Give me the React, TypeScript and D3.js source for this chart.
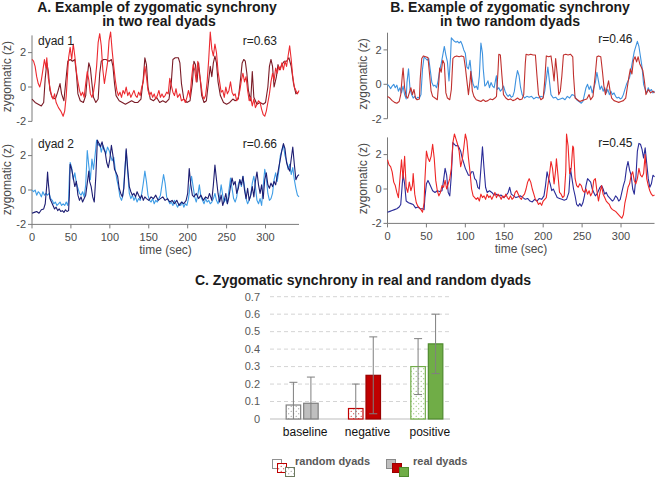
import React from "react";
import * as d3 from "d3";

type P = [number, number];

// ---------- time series data (t in sec, z-score) ----------
const A1Dark: P[] = [[0,-0.7],[4,-0.9],[8,-1.0],[12,-1.1],[15,-0.9],[17,0.5],[19,1.4],[21,0.9],[23,-0.2],[26,-0.6],[30,-0.7],[33,-0.3],[36,0.2],[38,-0.4],[41,-0.8],[44,0.6],[46,1.5],[49,1.6],[52,1.5],[55,1.6],[57,0.8],[59,-0.4],[62,-0.8],[66,-0.9],[69,-0.5],[71,0.6],[73,1.4],[75,1.1],[77,0.2],[79,-0.6],[82,-0.9],[85,-0.7],[87,0.8],[89,1.5],[92,1.6],[95,1.6],[99,1.5],[102,1.6],[104,1.2],[106,0.2],[108,-0.5],[112,-0.8],[116,-0.9],[120,-1.0],[124,-0.9],[128,-0.8],[132,-0.9],[136,-0.9],[140,-0.7],[143,0.5],[145,1.7],[147,1.3],[149,0.0],[152,-0.7],[156,-0.8],[160,-0.6],[164,-0.9],[168,-0.8],[172,-0.9],[176,-0.7],[179,0.3],[181,1.6],[184,1.7],[188,1.7],[190,1.4],[192,0.2],[195,-0.7],[199,-0.9],[203,-0.8],[206,0.2],[208,1.5],[210,1.3],[212,0.3],[214,1.4],[216,0.5],[218,-0.5],[221,-0.9],[224,-0.8],[227,0.4],[229,1.2],[231,0.6],[233,1.4],[235,1.8],[237,1.4],[239,0.3],[242,-0.5],[246,-0.9],[250,-1.0],[254,-0.9],[258,-0.7],[261,-0.8],[265,-0.7],[268,0.5],[270,1.4],[272,1.6],[274,1.5],[276,0.8],[278,-0.2],[281,-0.8],[283,0.9],[285,-0.6],[289,-1.0],[293,-0.9],[297,-1.0],[300,-0.9],[303,0.0],[305,1.2],[307,1.6],[309,1.2],[311,0.0],[314,0.6],[316,1.3],[318,1.0],[321,1.3],[324,1.5],[327,1.5],[330,1.7],[333,1.2],[336,0.2],[339,-0.4],[342,-0.3]];

const A1Bright: P[] = [[0,1.6],[2,1.5],[4,1.2],[6,0.6],[8,0.2],[10,0.0],[12,0.4],[14,1.0],[16,1.6],[18,1.1],[19,1.7],[21,0.5],[23,0.0],[25,-0.5],[27,-0.7],[29,-0.4],[31,-0.9],[34,-1.2],[37,-1.4],[40,-1.7],[42,-1.4],[44,-0.5],[46,1.0],[47,1.7],[49,2.3],[51,1.6],[53,2.5],[55,1.8],[57,0.9],[59,0.3],[61,-0.2],[63,-0.5],[65,-0.3],[67,-0.6],[69,0.2],[71,0.9],[73,0.4],[75,-0.4],[77,-0.6],[79,-0.3],[81,0.3],[83,1.2],[85,2.6],[87,3.1],[89,2.4],[91,1.0],[93,0.2],[95,0.8],[97,1.4],[99,2.7],[101,3.2],[103,2.1],[105,1.2],[107,0.4],[109,-0.2],[111,-0.5],[113,-0.3],[115,-0.6],[117,-0.2],[119,-0.4],[121,0.0],[123,-0.5],[125,-0.3],[127,-0.6],[129,-0.4],[131,-0.2],[133,-0.5],[135,-0.6],[137,-0.3],[139,-0.5],[141,0.0],[143,0.3],[145,1.2],[147,0.6],[149,-0.2],[151,-0.5],[153,-0.3],[155,-0.6],[157,-0.4],[159,-0.7],[161,-0.5],[163,-0.2],[165,-0.6],[167,-0.4],[169,-0.6],[171,-0.5],[173,-0.3],[175,-0.4],[177,0.5],[179,0.1],[181,-0.3],[183,-0.5],[185,-0.1],[187,-0.6],[190,-0.4],[192,-0.8],[195,-0.7],[197,-0.9],[199,-0.6],[201,-0.2],[203,-0.6],[205,0.5],[207,1.3],[209,1.0],[211,0.3],[213,1.5],[215,0.8],[217,0.2],[219,-0.5],[221,-0.7],[223,-0.5],[225,0.3],[227,1.6],[229,3.2],[231,2.2],[233,1.8],[235,2.5],[237,2.0],[239,0.9],[241,0.3],[243,-0.3],[245,-0.2],[247,-0.6],[249,0.0],[251,-0.4],[253,-0.2],[255,0.3],[257,-0.3],[259,-0.5],[261,-0.4],[263,-0.8],[265,-0.6],[267,-0.2],[269,0.4],[271,0.8],[273,0.3],[275,0.6],[277,-0.2],[279,-0.8],[281,-0.6],[283,-1.1],[285,-0.7],[287,-1.2],[289,-1.0],[291,-0.8],[293,-0.9],[295,-1.3],[297,-1.6],[299,-1.7],[301,-1.4],[303,-0.9],[305,-0.4],[307,0.3],[309,0.8],[311,0.4],[313,1.1],[315,0.8],[317,1.2],[319,1.0],[321,1.4],[323,1.0],[325,1.5],[327,1.2],[329,1.8],[331,2.4],[333,1.6],[335,0.6],[337,0.0],[339,-0.2],[341,-0.4],[343,-0.2]];

const A2Light: P[] = [[0,0.0],[2,-0.1],[4,0.0],[6,-0.3],[8,-0.1],[10,-0.2],[12,-0.4],[14,-0.1],[16,-0.3],[18,-0.2],[20,-0.3],[22,-0.2],[24,-0.5],[26,-0.6],[28,-0.8],[30,-0.7],[32,-0.9],[34,-0.8],[36,-0.7],[38,-0.9],[40,-0.8],[42,-0.9],[44,-0.7],[46,-0.9],[47,-0.6],[48,0.8],[49,1.6],[51,1.3],[53,0.6],[55,1.0],[57,0.4],[59,0.1],[61,-0.2],[63,-0.3],[65,-0.1],[67,-0.4],[69,0.3],[71,2.3],[73,1.4],[75,0.6],[77,1.8],[79,1.2],[81,2.0],[83,2.9],[85,2.6],[87,2.7],[89,2.2],[91,2.6],[93,2.4],[95,2.1],[97,2.5],[99,2.3],[101,2.0],[103,1.7],[105,1.9],[107,1.2],[109,0.6],[111,0.2],[113,-0.4],[115,-0.6],[117,-0.3],[119,1.0],[121,2.3],[123,1.0],[125,-0.2],[127,-0.5],[129,-0.3],[131,-0.6],[133,-0.4],[135,-0.7],[137,-0.5],[139,-0.6],[141,-0.2],[143,0.4],[145,1.1],[147,0.5],[149,-0.3],[151,-0.6],[153,-0.7],[155,-0.5],[157,-0.8],[159,-0.6],[161,-0.7],[163,-0.5],[165,-0.3],[167,0.3],[169,0.9],[171,0.4],[173,-0.4],[175,-0.6],[177,-0.8],[179,-0.7],[181,-0.9],[183,-0.6],[185,-0.8],[187,-1.0],[189,-0.8],[191,-0.9],[193,-0.7],[195,-1.0],[197,-0.8],[199,-0.9],[201,-0.5],[203,0.2],[205,0.8],[207,0.2],[209,-0.4],[211,-0.7],[213,-0.3],[215,0.3],[217,-0.4],[219,-0.6],[221,-0.8],[223,-0.5],[225,-0.7],[227,-0.6],[229,-0.8],[231,-0.7],[233,-0.5],[235,-0.2],[237,-0.6],[239,-0.8],[241,-0.4],[243,0.3],[245,-0.3],[247,-0.7],[249,-0.5],[251,-0.8],[253,0.0],[255,0.7],[257,0.1],[259,-0.5],[261,-0.7],[263,-0.4],[265,0.3],[267,0.6],[269,0.2],[271,0.8],[273,0.2],[275,-0.5],[277,-0.8],[279,-0.6],[281,-0.3],[283,0.4],[285,0.8],[287,0.2],[289,-0.6],[291,-0.8],[293,-0.5],[295,-0.9],[297,0.2],[299,1.2],[301,0.7],[303,-0.2],[305,-0.6],[307,-0.5],[309,-0.2],[311,0.6],[313,1.0],[315,0.5],[317,1.1],[319,2.0],[321,2.3],[323,2.6],[325,2.0],[327,1.7],[329,1.2],[331,1.5],[333,0.9],[335,1.3],[337,0.6],[339,0.1],[341,-0.3],[343,-0.4]];

const A2Navy: P[] = [[0,-1.35],[3,-1.3],[6,-1.25],[9,-1.35],[12,-1.15],[15,-1.1],[17,-0.8],[19,0.3],[20,1.05],[21,0.4],[23,-0.5],[25,-0.7],[27,-0.9],[29,-1.1],[31,-1.0],[33,-1.2],[35,-1.1],[37,-1.25],[39,-1.2],[41,-1.3],[43,-1.15],[45,-1.25],[47,-1.2],[48,-0.3],[49,1.5],[51,1.2],[53,0.7],[55,0.2],[57,0.5],[59,-0.3],[61,-0.6],[63,-0.4],[65,-0.7],[67,-0.5],[69,-0.3],[71,0.4],[73,1.1],[74,0.5],[76,0.2],[78,-0.4],[80,-0.7],[82,0.8],[84,2.9],[86,2.7],[88,2.5],[90,2.8],[92,2.4],[94,2.2],[96,1.6],[98,1.3],[100,1.8],[102,2.6],[104,2.0],[106,1.2],[108,1.0],[110,0.8],[112,0.1],[114,-0.2],[116,-0.4],[118,0.1],[120,1.6],[121,2.4],[123,1.2],[125,0.2],[127,-0.1],[129,-0.3],[131,-0.2],[133,-0.4],[135,-0.1],[137,-0.3],[139,-0.5],[141,-0.3],[143,-0.6],[145,-0.4],[147,-0.5],[150,-0.6],[153,-0.4],[156,-0.5],[159,-0.3],[162,-0.6],[165,-0.5],[168,-0.4],[171,-0.6],[174,-0.5],[177,-0.7],[180,-0.6],[183,-0.8],[186,-0.6],[189,-0.9],[192,-0.7],[195,-0.8],[198,-0.6],[200,-0.2],[202,1.25],[204,0.3],[206,-0.3],[208,-0.4],[211,-0.2],[214,-0.5],[217,-0.3],[220,-0.6],[223,-0.4],[226,-0.5],[228,-0.2],[231,-0.6],[233,0.3],[235,1.45],[237,0.6],[239,-0.2],[241,-0.7],[243,-0.3],[245,-0.9],[247,-0.6],[249,-0.2],[251,-0.8],[253,-0.4],[255,0.2],[257,0.7],[259,0.3],[261,0.5],[263,-0.2],[265,0.1],[267,0.6],[269,0.3],[271,0.8],[273,0.0],[275,-0.5],[277,0.1],[279,-0.6],[281,-0.3],[283,0.2],[285,-0.4],[287,0.5],[289,1.05],[291,0.3],[293,-0.2],[295,0.3],[297,-0.5],[299,0.6],[301,1.0],[303,0.3],[305,0.1],[307,0.4],[309,0.2],[311,0.5],[313,0.3],[315,0.8],[317,1.3],[319,1.8],[321,2.3],[323,2.7],[325,2.4],[327,1.6],[329,1.3],[331,1.1],[333,1.8],[335,2.5],[337,1.5],[339,0.6],[341,0.8],[343,0.9]];

const B1Blue: P[] = [[0,0.0],[2,-0.1],[4,-0.25],[6,-0.1],[8,0.0],[10,-0.2],[12,-0.05],[14,-0.4],[16,-0.2],[18,-0.5],[20,-0.1],[22,-0.6],[24,-0.85],[25,0.1],[27,0.9],[29,-0.3],[31,-0.6],[33,-0.8],[35,-0.7],[37,-0.85],[39,-0.75],[41,-0.8],[43,-0.6],[45,0.9],[47,1.6],[49,1.5],[51,1.4],[53,1.5],[55,0.8],[57,0.1],[59,-0.1],[61,-0.05],[63,-0.2],[65,0.2],[67,0.8],[69,1.2],[71,1.7],[73,2.2],[75,1.7],[77,1.3],[79,0.2],[81,1.6],[82,2.7],[84,2.6],[86,2.5],[88,2.45],[90,2.5],[92,2.4],[94,2.5],[96,2.3],[98,2.0],[100,1.8],[102,1.0],[104,0.9],[106,1.4],[108,0.5],[110,0.0],[112,-0.2],[114,-0.1],[116,-0.3],[118,0.5],[120,2.4],[122,1.8],[123,0.9],[125,-0.1],[127,0.0],[129,0.2],[131,-0.2],[133,0.1],[135,-0.1],[137,-0.2],[139,0.3],[140,0.5],[141,-0.3],[143,-0.2],[145,-0.4],[147,-0.3],[149,-0.1],[151,-0.4],[153,-0.6],[155,-0.7],[157,-0.6],[159,-0.75],[161,-0.7],[163,-0.4],[165,0.3],[167,0.8],[169,0.5],[171,-0.2],[173,-0.6],[176,-0.8],[179,-0.7],[182,-0.75],[185,-0.7],[188,-0.85],[191,-0.75],[194,-0.8],[197,-0.7],[200,-0.75],[202,-0.4],[204,0.3],[206,1.0],[208,0.2],[210,-0.6],[213,-0.8],[216,-0.75],[219,-0.9],[222,-0.85],[225,-0.8],[228,-0.9],[231,-0.7],[234,-0.8],[237,-0.6],[240,-0.65],[243,-0.9],[246,-1.0],[249,-1.1],[251,-1.0],[253,-0.6],[255,-0.2],[257,0.0],[259,-0.3],[261,-0.1],[263,-0.5],[265,-0.2],[267,0.1],[269,0.7],[271,0.2],[273,-0.3],[275,-0.1],[277,-0.4],[279,-0.2],[281,-0.5],[283,-0.3],[285,-0.6],[287,-0.4],[289,-0.6],[291,-0.5],[293,-0.7],[295,-0.8],[297,-0.75],[299,-0.85],[301,-0.8],[303,-0.6],[305,-0.3],[307,0.0],[309,0.2],[311,0.4],[313,0.9],[315,1.4],[317,1.9],[319,2.2],[321,2.5],[323,2.2],[325,1.6],[327,1.0],[329,0.0],[331,-0.3],[333,-0.5],[335,-0.2],[337,-0.4],[339,-0.3],[341,-0.5],[343,-0.4]];

const B1Red: P[] = [[0,-0.7],[3,-0.8],[6,-0.95],[9,-1.05],[12,-1.1],[15,-1.0],[17,-0.6],[19,0.5],[20,0.95],[22,-0.2],[24,-0.7],[26,-0.8],[28,-0.5],[30,-0.2],[32,-0.6],[34,-0.3],[36,-0.8],[38,-0.9],[41,-0.85],[42,0.3],[44,1.5],[46,1.65],[49,1.6],[52,1.55],[54,0.6],[56,-0.4],[58,-0.7],[61,-0.8],[64,-0.9],[66,0.2],[67,0.95],[69,0.7],[71,1.4],[73,1.2],[75,-0.5],[77,-0.8],[80,-0.9],[82,-0.3],[84,1.5],[86,1.6],[89,1.65],[92,1.6],[95,1.65],[98,1.6],[100,1.0],[102,0.2],[104,-0.6],[106,0.2],[107,0.75],[109,-0.4],[111,-0.7],[114,-0.9],[117,-0.95],[120,-1.0],[123,-0.9],[126,-1.0],[129,-0.95],[132,-0.85],[135,-0.9],[138,-0.8],[140,-0.7],[142,0.8],[143,1.75],[145,1.7],[147,0.5],[149,-0.6],[152,-0.8],[155,-0.9],[158,-0.85],[161,-0.95],[164,-0.9],[167,-0.8],[170,-0.9],[173,-0.85],[175,-0.6],[177,1.2],[178,1.75],[181,1.7],[184,1.75],[187,1.7],[190,1.7],[192,0.5],[194,-0.6],[197,-0.9],[200,-0.8],[202,0.2],[204,1.65],[207,1.6],[210,1.65],[212,1.0],[214,0.2],[216,1.5],[218,0.6],[220,-0.6],[222,-0.4],[224,0.5],[226,1.7],[229,1.75],[232,1.7],[235,1.75],[238,1.6],[239,0.5],[241,-0.8],[244,-0.9],[247,-1.0],[250,-0.95],[253,-0.9],[256,-0.85],[259,-0.6],[261,-0.9],[264,-0.7],[267,0.6],[269,1.6],[271,1.65],[274,1.6],[276,0.8],[278,-0.1],[280,-0.6],[282,-0.2],[284,0.2],[286,-0.4],[288,-0.8],[291,-0.95],[294,-1.0],[297,-1.05],[300,-1.0],[303,-0.95],[306,-0.8],[308,-0.2],[310,0.4],[312,0.9],[314,0.6],[316,1.4],[318,1.6],[320,1.3],[322,1.6],[324,1.2],[326,1.0],[328,0.8],[330,0.2],[332,-0.6],[335,-0.3],[338,-0.5],[341,-0.4],[343,-0.5]];

const B2Navy: P[] = [[0,-1.35],[3,-1.3],[6,-1.25],[9,-1.2],[12,-1.15],[15,-1.05],[17,-0.9],[19,0.3],[20,0.85],[22,0.3],[24,-0.7],[27,-0.8],[30,-0.85],[33,-0.9],[36,-1.1],[39,-1.05],[42,-1.15],[45,-1.15],[47,-1.2],[48,-0.5],[50,0.3],[52,0.5],[54,0.3],[56,0.1],[58,-0.1],[61,-0.2],[64,-0.1],[67,-0.15],[70,-0.1],[72,0.5],[74,1.2],[76,0.8],[78,-0.2],[80,-0.4],[82,0.8],[84,2.7],[86,2.6],[88,2.5],[90,2.55],[92,2.4],[94,2.2],[96,1.8],[98,1.5],[100,1.2],[102,1.0],[104,0.8],[106,0.8],[108,1.0],[110,1.0],[112,0.6],[114,0.5],[116,0.1],[118,0.0],[120,1.2],[122,2.45],[124,1.2],[126,0.1],[128,-0.2],[131,-0.1],[134,-0.2],[137,-0.35],[140,-0.3],[143,-0.4],[146,-0.35],[149,-0.5],[152,-0.4],[155,-0.2],[157,0.1],[159,-0.3],[162,-0.4],[165,-0.5],[168,-0.45],[171,-0.4],[174,-0.5],[177,-0.6],[180,-0.55],[183,-0.7],[186,-0.75],[189,-0.6],[192,-0.7],[195,-0.55],[198,-0.6],[201,-0.4],[203,0.2],[205,1.0],[207,0.6],[209,0.3],[211,-0.1],[213,0.0],[215,-0.2],[218,-0.5],[221,-0.55],[224,-0.6],[227,-0.65],[230,-0.6],[233,-0.2],[235,1.2],[237,0.6],[239,0.0],[241,-0.4],[243,-0.9],[245,-1.0],[247,-0.85],[249,-1.0],[251,-0.8],[253,-0.4],[255,0.2],[257,0.6],[259,0.5],[261,0.4],[263,0.0],[265,-0.2],[267,-0.4],[269,-0.3],[271,-0.1],[273,0.1],[275,0.2],[277,0.0],[279,-0.3],[281,-0.2],[283,-0.4],[285,-0.5],[287,-0.6],[289,-0.7],[291,-0.6],[293,-0.4],[295,-0.5],[297,-0.7],[299,-0.6],[301,-0.2],[303,0.2],[305,0.5],[307,1.2],[309,1.6],[311,1.1],[313,0.8],[315,0.0],[317,-0.3],[319,0.6],[321,2.2],[323,2.65],[325,2.6],[327,2.3],[329,1.8],[331,2.4],[333,1.5],[335,0.6],[337,0.1],[339,0.3],[341,0.8],[343,0.7]];

const B2Red: P[] = [[0,1.7],[2,1.4],[4,1.3],[6,1.0],[8,0.4],[10,0.2],[12,-0.2],[14,-0.5],[16,0.6],[18,1.7],[20,0.6],[22,1.9],[24,0.1],[26,-0.2],[28,0.4],[30,-0.1],[32,0.2],[33,0.9],[35,-0.3],[37,-0.8],[39,-1.0],[41,-1.1],[43,-1.2],[45,-1.35],[47,-0.8],[48,0.5],[50,2.2],[52,1.8],[54,1.6],[56,1.9],[58,2.6],[60,1.8],[62,0.5],[64,-0.1],[66,-0.4],[68,-0.2],[70,0.2],[72,0.1],[74,0.5],[76,0.0],[78,0.3],[80,0.6],[82,1.2],[84,2.7],[86,3.2],[88,2.9],[90,2.6],[92,2.2],[94,1.3],[96,1.7],[98,2.4],[100,3.2],[102,2.8],[104,1.8],[106,1.0],[108,0.0],[110,-0.4],[112,-0.5],[114,-0.6],[116,-0.5],[118,-0.7],[120,-0.3],[122,-0.5],[124,-0.4],[126,-0.6],[128,-0.3],[130,-0.5],[132,-0.4],[134,-0.6],[136,-0.4],[138,-0.2],[140,-0.5],[142,-0.3],[144,-0.4],[146,-0.6],[148,-0.4],[150,-0.5],[152,-0.3],[154,-0.5],[156,-0.6],[158,-0.4],[160,-0.6],[162,-0.5],[164,-0.2],[166,-0.1],[168,-0.3],[170,-0.5],[172,-0.6],[174,-0.4],[176,-0.3],[178,0.0],[180,0.4],[182,0.6],[184,0.4],[186,0.0],[188,-0.3],[190,-0.6],[192,-0.7],[194,-0.9],[196,-0.8],[198,-0.95],[200,-0.7],[202,-0.6],[204,-0.5],[206,0.2],[208,0.8],[210,1.6],[212,1.2],[214,0.3],[216,1.1],[217,1.75],[219,0.8],[221,-0.2],[223,-0.3],[225,-0.5],[227,-0.4],[229,1.0],[230,3.2],[232,2.5],[234,0.9],[236,1.2],[238,2.5],[239,2.4],[241,0.6],[243,0.2],[245,0.1],[247,0.3],[249,0.2],[251,-0.1],[253,-0.2],[255,0.0],[257,-0.3],[259,-0.1],[261,-0.4],[263,-0.2],[265,0.5],[267,0.6],[269,-0.1],[271,-0.7],[273,-0.2],[275,0.2],[277,-0.3],[279,-0.5],[281,-0.7],[283,-0.8],[285,-0.9],[287,-1.1],[289,-1.2],[291,-1.25],[293,-1.3],[295,-1.4],[297,-1.5],[299,-1.6],[301,-1.7],[303,-1.5],[305,-0.8],[307,-0.4],[309,0.1],[311,0.3],[313,0.8],[315,1.0],[317,0.5],[319,0.3],[321,0.6],[323,1.2],[325,0.8],[327,0.7],[329,0.9],[331,2.0],[333,0.6],[335,0.2],[337,-0.1],[339,-0.3],[341,-0.4],[343,-0.35]];

const timeTicks = [0, 50, 100, 150, 200, 250, 300];
const zTicks = [-2, 0, 2];

// ---------- bar chart data ----------
const categories = ["baseline", "negative", "positive"];
const randomMeans = [0.08, 0.06, 0.30];
const randomErr = [0.13, 0.14, 0.16];
const realMeans = [0.09, 0.25, 0.43];
const realErr = [0.15, 0.22, 0.17];
const barTicks = [0, 0.1, 0.2, 0.3, 0.4, 0.5, 0.6, 0.7];
const catColors = ["#808080", "#c00000", "#70ad47"];
const realFills = ["#bfbfbf", "#c00000", "#70ad47"];
const realStrokes = ["#7f7f7f", "#9a0000", "#4f8a2e"];

const FONT = "'Liberation Sans', Arial, Helvetica, sans-serif";
const X_MAX = 343;
const UNIT = 17.2;

interface PanelDef {
  x0: number; x1: number; zero: number; xAxis: boolean;
  dyad?: string; r: string;
  series: { data: P[]; color: string }[];
}

const panels: PanelDef[] = [
  { x0: 32, x1: 299, zero: 87, xAxis: false, dyad: "dyad 1", r: "r=0.63",
    series: [{ data: A1Dark, color: "#7a1b26" }, { data: A1Bright, color: "#ec2a30" }] },
  { x0: 32, x1: 299, zero: 190, xAxis: true, dyad: "dyad 2", r: "r=0.66",
    series: [{ data: A2Light, color: "#3f9de6" }, { data: A2Navy, color: "#1d1d72" }] },
  { x0: 387.5, x1: 654.5, zero: 84.3, xAxis: false, r: "r=0.46",
    series: [{ data: B1Blue, color: "#3d92df" }, { data: B1Red, color: "#c0302e" }] },
  { x0: 387.5, x1: 654.5, zero: 189, xAxis: true, r: "r=0.45",
    series: [{ data: B2Navy, color: "#2a2c98" }, { data: B2Red, color: "#ee2626" }] },
];

function TSPanel({ def }: { def: PanelDef }) {
  const x = d3.scaleLinear().domain([0, X_MAX]).range([def.x0, def.x1]);
  const y = d3.scaleLinear().domain([-2, 2]).range([def.zero + 2 * UNIT, def.zero - 2 * UNIT]);
  const line = d3.line<P>().x((d) => x(d[0])).y((d) => y(d[1]));
  const axisColor = "#7a7a7a";
  const tickText = "#4a4a4a";
  return (
    <g>
      <line x1={def.x0} x2={def.x0} y1={y(3)} y2={y(-2)} stroke={axisColor} strokeWidth={1} />
      {zTicks.map((t) => (
        <g key={t}>
          <line x1={def.x0 - 4} x2={def.x0} y1={y(t)} y2={y(t)} stroke={axisColor} />
          <text x={def.x0 - 6} y={y(t)} dy="0.35em" textAnchor="end" fontSize={11} fill={tickText}>{t}</text>
        </g>
      ))}
      <text transform={`translate(${def.x0 - 21},${y(0.6)}) rotate(-90)`} textAnchor="middle" fontSize={12} fill="#4a4a4a">zygomatic (z)</text>
      {def.xAxis && (
        <g>
          <line x1={def.x0} x2={def.x1} y1={y(-2)} y2={y(-2)} stroke={axisColor} />
          {timeTicks.map((t) => (
            <g key={t}>
              <line x1={x(t)} x2={x(t)} y1={y(-2)} y2={y(-2) + 4} stroke={axisColor} />
              <text x={x(t)} y={y(-2) + 17} textAnchor="middle" fontSize={11} fill={tickText}>{t}</text>
            </g>
          ))}
          <text x={(def.x0 + def.x1) / 2} y={y(-2) + 30} textAnchor="middle" fontSize={12} fill="#4a4a4a">time (sec)</text>
        </g>
      )}
      {def.series.map((s, i) => (
        <path key={i} d={line(s.data) || ""} fill="none" stroke={s.color} strokeWidth={1.1} strokeLinejoin="round" />
      ))}
      {def.dyad && <text x={def.x0 + 6} y={y(2.42)} fontSize={12} fill="#222">{def.dyad}</text>}
      <text x={def.x1 - 22} y={y(2.42)} textAnchor="end" fontSize={12} fill="#222">{def.r}</text>
    </g>
  );
}

function BarChart() {
  const yB = d3.scaleLinear().domain([0, 0.7]).range([419, 296.7]);
  const xB = d3.scaleBand<string>().domain(categories).range([271, 458]);
  const left = 270, right = 450;
  const bw = 14.5;
  const cap = 4;
  return (
    <g>
      <defs>
        {catColors.map((c, i) => (
          <pattern key={i} id={`dots${i}`} width={5} height={5} patternUnits="userSpaceOnUse">
            <rect width={5} height={5} fill="#ffffff" />
            <circle cx={1.2} cy={1.2} r={0.55} fill={c} />
            <circle cx={3.7} cy={3.7} r={0.55} fill={c} />
          </pattern>
        ))}
      </defs>
      {barTicks.map((t) => (
        <g key={t}>
          {t > 0 && <line x1={left} x2={right} y1={yB(t)} y2={yB(t)} stroke="#d4d4d4" strokeDasharray="4,3" />}
          <text x={260} y={yB(t)} dy="0.35em" textAnchor="end" fontSize={11} fill="#595959">{t === 0 ? "0" : t.toFixed(1)}</text>
        </g>
      ))}
      <line x1={left} x2={right} y1={yB(0)} y2={yB(0)} stroke="#bdbdbd" strokeWidth={1.2} />
      {categories.map((c, i) => {
        const cx = (xB(c) as number) + xB.bandwidth() / 2;
        const rx = cx - 16;
        const qx = cx + 1.5;
        const bars = [
          { x: rx, m: randomMeans[i], e: randomErr[i], fill: `url(#dots${i})`, stroke: catColors[i] },
          { x: qx, m: realMeans[i], e: realErr[i], fill: realFills[i], stroke: realStrokes[i] },
        ];
        return (
          <g key={c}>
            {bars.map((b, j) => (
              <rect key={j} x={b.x} y={yB(b.m)} width={bw} height={yB(0) - yB(b.m)} fill={b.fill} stroke={b.stroke} strokeWidth={1.2} />
            ))}
            {bars.map((b, j) => {
              const mx = b.x + bw / 2;
              const lo = Math.max(0, b.m - b.e);
              const hi = b.m + b.e;
              return (
                <g key={`e${j}`} stroke="#7f7f7f" strokeWidth={1}>
                  <line x1={mx} x2={mx} y1={yB(hi)} y2={yB(lo)} />
                  <line x1={mx - cap} x2={mx + cap} y1={yB(hi)} y2={yB(hi)} />
                  {b.m - b.e > 0 && <line x1={mx - cap} x2={mx + cap} y1={yB(lo)} y2={yB(lo)} />}
                </g>
              );
            })}
            <text x={cx + 3} y={436} textAnchor="middle" fontSize={12} fill="#111">{c}</text>
          </g>
        );
      })}
    </g>
  );
}

function Legend() {
  const s = 9;
  return (
    <g>
      <rect x={272.5} y={459.5} width={s} height={s} fill="#fff" stroke="#909090" />
      <rect x={277.5} y={463.5} width={s} height={s} fill="url(#dots1)" stroke="#c00000" />
      <rect x={285.5} y={467.5} width={s} height={s} fill="url(#dots0)" stroke="#6d7a5f" />
      <text x={295} y={465} fontSize={11} fontWeight="bold" fill="#595959">random dyads</text>
      <rect x={386.5} y={459.5} width={s} height={s} fill="#bfbfbf" stroke="#8a8a8a" />
      <rect x={392.5} y={463.5} width={s} height={s} fill="#c00000" stroke="#9a0000" />
      <rect x={399.5} y={467.5} width={s} height={s} fill="#70ad47" stroke="#4f8a2e" />
      <text x={413} y={465} fontSize={11} fontWeight="bold" fill="#595959">real dyads</text>
    </g>
  );
}

export default function App() {
  return (
    <svg width={657} height={479} style={{ position: "absolute", left: 0, top: 0, background: "#fff" }} fontFamily={FONT}>
      <rect width={657} height={479} fill="#fff" />
      <g fontWeight="bold" fontSize={14} fill="#1a1a1a" textAnchor="middle">
        <text x={157} y={11.5}>A. Example of zygomatic synchrony</text>
        <text x={159} y={26}>in two real dyads</text>
        <text x={510} y={11.5}>B. Example of zygomatic synchrony</text>
        <text x={510} y={26}>in two random dyads</text>
        <text x={363} y={285}>C. Zygomatic synchrony in real and random dyads</text>
      </g>
      {panels.map((p, i) => <TSPanel key={i} def={p} />)}
      <BarChart />
      <Legend />
    </svg>
  );
}
